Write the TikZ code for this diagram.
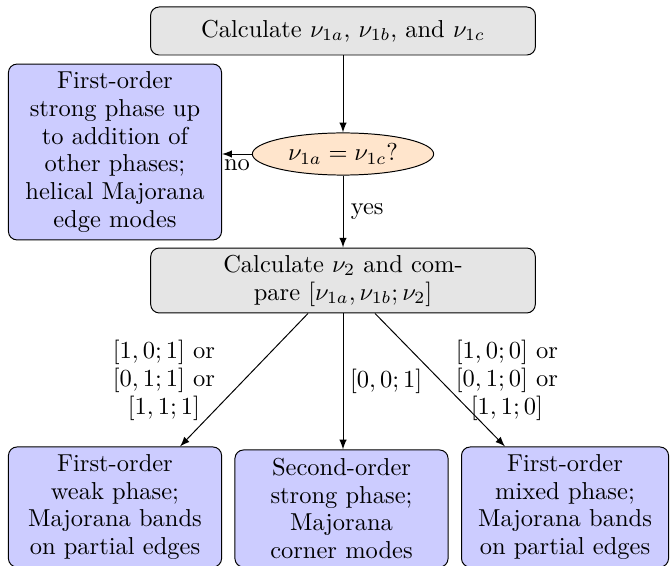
\documentclass[tikz,border=0pt]{standalone}
\usetikzlibrary{shapes.geometric,arrows.meta,calc}
\begin{document}
\begin{tikzpicture}[x=0.4082pt,y=-0.4082pt,
  every node/.style={font=\fontsize{10}{11.4}\selectfont},
  graybox/.style={draw, rounded corners=3.5pt, fill=gray!20, align=center, inner sep=2pt},
  bluebox/.style={draw, rounded corners=3.5pt, fill=blue!20, align=center, inner sep=2pt},
  decision/.style={draw, ellipse, fill=orange!20, inner sep=0pt},
  arr/.style={-latex, thin},
  lbl/.style={align=center, inner sep=1pt}]
\useasboundingbox (0,0) rectangle (670,565);
\node[graybox, minimum width=157.1pt, minimum height=19.6pt] (top) at (343,31) {Calculate $\nu_{1a}$, $\nu_{1b}$, and $\nu_{1c}$};
\node[decision, minimum width=74pt, minimum height=17.2pt] (ell) at (343,154) {$\nu_{1a}=\nu_{1c}$?};
\node[bluebox, text width=83pt, minimum height=71.8pt] (left) at (115,152) {First-order\\strong phase up\\to addition of\\other phases;\\helical Majorana\\edge modes};
\node[graybox, text width=153pt, minimum height=26.5pt] (mid) at (343,280.5) {Calculate $\nu_2$ and com-\\pare $[\nu_{1a},\nu_{1b};\nu_2]$};
\node[bluebox, text width=83pt, minimum height=49pt] (bl) at (115,507) {First-order\\weak phase;\\Majorana bands\\on partial edges};
\node[bluebox, text width=83pt, minimum height=47.8pt] (bm) at (341.5,508.5) {Second-order\\strong phase;\\Majorana\\corner modes};
\node[bluebox, text width=80.5pt, minimum height=49pt] (br) at (565,507) {First-order\\mixed phase;\\Majorana bands\\on partial edges};
\draw[arr] (top) -- (ell);
\draw[arr] (ell) -- node[below, inner sep=2pt] {no} (ell -| left.east);
\draw[arr] (ell) -- node[right, inner sep=3pt] {yes} (mid);
\draw[arr] ($(mid.south)+(-35,0)$) -- node[lbl, xshift=-32.7pt] {$[1,0;1]$ or\\$[0,1;1]$ or\\$[1,1;1]$} ($(bl.north)+(65,0)$);
\draw[arr] (mid.south) -- node[lbl, xshift=17.6pt] {$[0,0;1]$} (mid.south |- bm.north);
\draw[arr] ($(mid.south)+(32,0)$) -- node[lbl, xshift=27.3pt] {$[1,0;0]$ or\\$[0,1;0]$ or\\$[1,1;0]$} ($(br.north)+(-60,0)$);
\end{tikzpicture}
\end{document}
